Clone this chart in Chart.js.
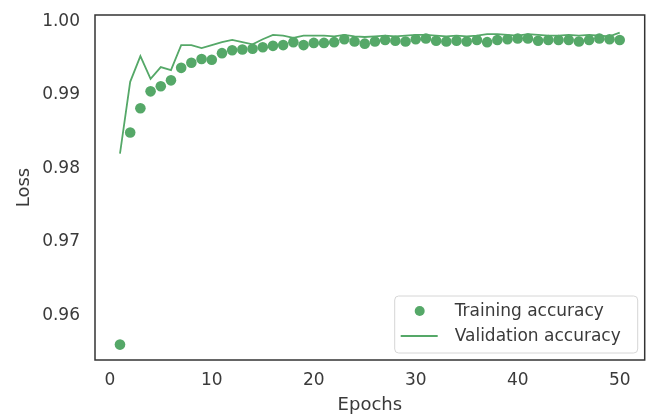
<!DOCTYPE html>
<html>
<head>
<meta charset="utf-8">
<script src="https://cdn.jsdelivr.net/npm/chart.js@4.4.0/dist/chart.umd.min.js"></script>
<style>
  html, body { margin: 0; padding: 0; background: #fff; }
  #wrap { width: 650px; height: 414px; }
</style>
</head>
<body>
<div id="wrap"><canvas id="accChart" width="650" height="414"></canvas></div>
<script>
const epochs = Array.from({ length: 50 }, (_, i) => i + 1);

const trainingAcc = [
  0.9560, 0.9849, 0.9882, 0.9905, 0.9912, 0.9920, 0.9937, 0.9944, 0.9949, 0.9948,
  0.9957, 0.9961, 0.9962, 0.9963, 0.9965, 0.9967, 0.9968, 0.9972, 0.9968, 0.9971,
  0.9971, 0.9972, 0.9976, 0.9973, 0.9970, 0.9973, 0.9975, 0.9974, 0.9973, 0.9976,
  0.9977, 0.9974, 0.9973, 0.9974, 0.9973, 0.9975, 0.9972, 0.9975, 0.9976, 0.9977,
  0.9977, 0.9974, 0.9975, 0.9975, 0.9975, 0.9973, 0.9975, 0.9977, 0.9976, 0.9975
];

const validationAcc = [
  0.9820, 0.9918, 0.9953, 0.9922, 0.9938, 0.9934, 0.9968, 0.9968, 0.9964, 0.9968,
  0.9972, 0.9975, 0.9972, 0.9969, 0.9976, 0.9982, 0.9981, 0.9978, 0.9981, 0.9981,
  0.9981, 0.9980, 0.9982, 0.9980, 0.9979, 0.9980, 0.9981, 0.9980, 0.9981, 0.9982,
  0.9982, 0.9981, 0.9980, 0.9981, 0.9980, 0.9981, 0.9983, 0.9983, 0.9982, 0.9981,
  0.9983, 0.9982, 0.9981, 0.9981, 0.9982, 0.9981, 0.9982, 0.9981, 0.9980, 0.9985
];

const xTicks = [0, 10, 20, 30, 40, 50];
const yTicks = [0.96, 0.97, 0.98, 0.99, 1.00];

const green = '#55a868';
const textColor = '#3a3a3a';
const fontFamily = '"DejaVu Sans", sans-serif';

// frame around the plot area, like the matplotlib spines
const framePlugin = {
  id: 'frame',
  afterDraw(chart) {
    const { ctx, chartArea: a } = chart;
    ctx.save();
    ctx.strokeStyle = '#333';
    ctx.lineWidth = 1.5;
    ctx.strokeRect(a.left, a.top, a.right - a.left, a.bottom - a.top);
    ctx.restore();
  }
};

// legend box inside the lower right corner
const innerLegend = {
  id: 'innerLegend',
  afterDraw(chart) {
    const { ctx, chartArea: a } = chart;
    const sets = chart.data.datasets;
    const boxW = 243, boxH = 57;
    const x = a.right - 7 - boxW;
    const y = a.bottom - 7 - boxH;
    ctx.save();
    ctx.beginPath();
    ctx.roundRect(x, y, boxW, boxH, 4);
    ctx.fillStyle = 'rgba(255,255,255,0.85)';
    ctx.fill();
    ctx.strokeStyle = '#d6d6d6';
    ctx.lineWidth = 1;
    ctx.stroke();

    ctx.font = `17px ${fontFamily}`;
    ctx.textBaseline = 'middle';
    sets.forEach((ds, i) => {
      const cy = y + 15 + i * 25;
      if (ds.showLine === false) {
        ctx.beginPath();
        ctx.arc(x + 25, cy, 5, 0, Math.PI * 2);
        ctx.fillStyle = green;
        ctx.fill();
      } else {
        ctx.beginPath();
        ctx.moveTo(x + 6, cy);
        ctx.lineTo(x + 43, cy);
        ctx.strokeStyle = green;
        ctx.lineWidth = 1.8;
        ctx.stroke();
      }
      ctx.fillStyle = textColor;
      ctx.fillText(ds.label, x + 60, cy + 1);
    });
    ctx.restore();
  }
};

new Chart(document.getElementById('accChart'), {
  type: 'line',
  data: {
    datasets: [
      {
        label: 'Training accuracy',
        data: epochs.map((e, i) => ({ x: e, y: trainingAcc[i] })),
        showLine: false,
        pointRadius: 5.3,
        pointBackgroundColor: green,
        pointBorderWidth: 0,
        borderColor: green
      },
      {
        label: 'Validation accuracy',
        data: epochs.map((e, i) => ({ x: e, y: validationAcc[i] })),
        borderColor: green,
        borderWidth: 1.8,
        pointRadius: 0,
        tension: 0
      }
    ]
  },
  options: {
    responsive: false,
    animation: false,
    layout: { padding: { left: 0, right: 5, top: 15, bottom: 0 } },
    plugins: {
      legend: { display: false },
      tooltip: { enabled: false }
    },
    scales: {
      x: {
        type: 'linear',
        min: -1.45,
        max: 52.45,
        grid: { display: false, drawTicks: false },
        border: { display: false },
        afterBuildTicks: scale => { scale.ticks = xTicks.map(v => ({ value: v })); },
        afterFit: scale => {
          scale.height = 54;
          scale.paddingLeft = 0;
          scale.paddingRight = 0;
        },
        ticks: {
          padding: 10,
          color: textColor,
          font: { family: fontFamily, size: 17 },
          maxRotation: 0,
          callback: v => String(v)
        },
        title: {
          display: true,
          text: 'Epochs',
          color: textColor,
          font: { family: fontFamily, size: 18, lineHeight: 1 },
          padding: { top: 0, bottom: 0 }
        }
      },
      y: {
        min: 0.9539,
        max: 1.0009,
        grid: { display: false, drawTicks: false },
        border: { display: false },
        afterBuildTicks: scale => { scale.ticks = yTicks.map(v => ({ value: v })); },
        afterFit: scale => {
          scale.width = 95;
          scale.paddingTop = 0;
          scale.paddingBottom = 0;
        },
        ticks: {
          padding: 15,
          color: textColor,
          font: { family: fontFamily, size: 17 },
          callback: v => Number(v).toFixed(2)
        },
        title: {
          display: true,
          text: 'Loss',
          color: textColor,
          font: { family: fontFamily, size: 18, lineHeight: 1.2 },
          padding: { top: 14, bottom: 0 }
        }
      }
    }
  },
  plugins: [framePlugin, innerLegend]
});
</script>
</body>
</html>
